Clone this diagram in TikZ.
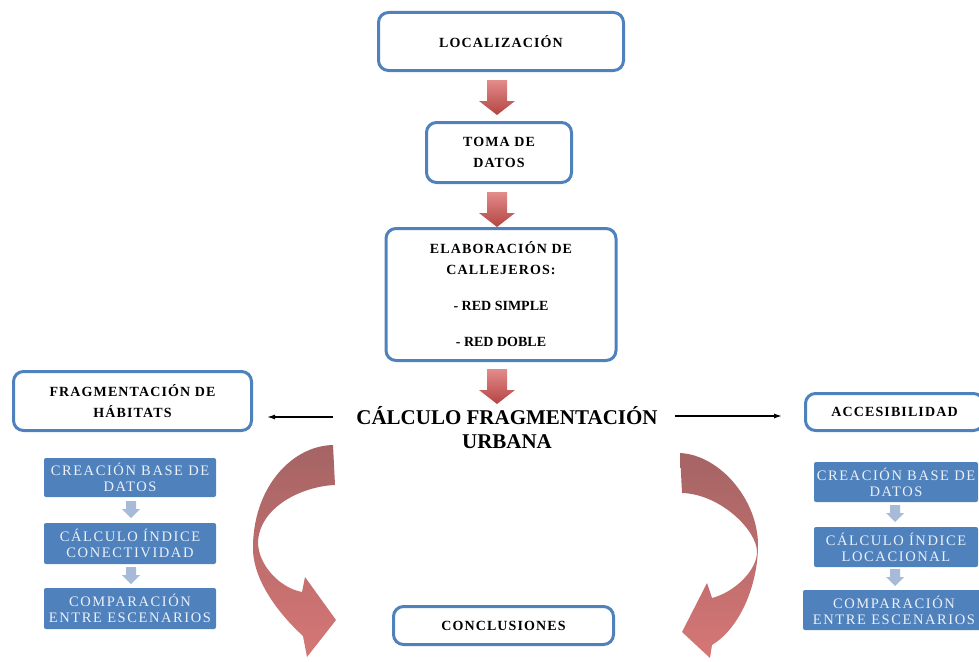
\documentclass[tikz,border=0pt]{standalone}
\usepackage{fontspec}
\setmainfont{Liberation Serif}
\newfontfamily\spacedfont[LetterSpace=8]{Liberation Serif}
\newfontfamily\bluefont[LetterSpace=11]{Liberation Serif}
\usetikzlibrary{arrows.meta}
\definecolor{boxblue}{RGB}{79,129,189}
\definecolor{lightarrow}{RGB}{167,186,216}
\definecolor{bluetext}{RGB}{236,240,247}
\definecolor{redtop}{RGB}{226,140,138}
\definecolor{redbot}{RGB}{180,68,66}
\definecolor{ctop}{RGB}{165,100,100}
\definecolor{cmid}{RGB}{190,78,76}
\definecolor{cbot}{RGB}{214,118,118}
\begin{document}
\begin{tikzpicture}[x=1pt,y=-1pt,
  wbox/.style={draw=boxblue, line width=3pt, rounded corners=10pt, fill=white,
    align=center, inner sep=0pt, font=\spacedfont\bfseries\fontsize{14}{21}\selectfont},
  bbox/.style={fill=boxblue, rounded corners=2pt, align=center, inner sep=0pt,
    text=bluetext, font=\bluefont\fontsize{14.5}{16}\selectfont},
  redarr/.pic={\shade[top color=redtop, bottom color=redbot]
    (-10,0) -- (10,0) -- (10,21) -- (18,21) -- (0,35) -- (-18,21) -- (-10,21) -- cycle;},
  bluearr/.pic={\fill[lightarrow]
    (-5,0) -- (5,0) -- (5,8) -- (9,8) -- (0,17) -- (-9,8) -- (-5,8) -- cycle;},
  thinarrow/.style={line width=1.3pt, -{Latex[length=8pt,width=5pt]}},
  curvedarrow/.style={top color=ctop, middle color=cmid, bottom color=cbot, draw=none}
]
\useasboundingbox (0,0) rectangle (979,661);

% main column
\node[wbox, minimum width=245pt, minimum height=58pt] (loc) at (501,41.5) {LOCALIZACIÓN};
\pic at (497,80) {redarr};
\node[wbox, minimum width=145pt, minimum height=60pt] (toma) at (499,152.5) {TOMA DE\\DATOS};
\pic at (497,192) {redarr};
\node[wbox, minimum width=230pt, minimum height=132pt] (elab) at (501,294.5)
  {ELABORACIÓN DE\\CALLEJEROS:\\[15pt]{\normalfont\bfseries - RED SIMPLE}\\[15pt]{\normalfont\bfseries - RED DOBLE}};
\pic at (497,369) {redarr};
\node[align=center, inner sep=0pt, font=\bfseries\fontsize{21}{24}\selectfont] (calc) at (507,428)
  {CÁLCULO FRAGMENTACIÓN\\URBANA};

% side boxes
\node[wbox, minimum width=238pt, minimum height=59pt] (frag) at (132.5,401) {FRAGMENTACIÓN DE\\HÁBITATS};
\node[wbox, minimum width=178pt, minimum height=37pt] (acc) at (894.5,412) {ACCESIBILIDAD};
\node[wbox, minimum width=220pt, minimum height=38pt] (concl) at (503.5,625.5) {CONCLUSIONES};

\coordinate (la) at (333,417);
\coordinate (ra) at (675,416);
\draw[thinarrow, shorten >=14pt] (la) -- (frag.east |- la);
\draw[thinarrow, shorten >=22pt] (ra) -- (acc.west |- ra);

% left blue column
\node[bbox, minimum width=172pt, minimum height=39pt] (l1) at (130,477.5) {CREACIÓN BASE DE\\DATOS};
\pic at (131,501) {bluearr};
\node[bbox, minimum width=172pt, minimum height=41pt] (l2) at (130,543.5) {CÁLCULO ÍNDICE\\CONECTIVIDAD};
\pic at (131,567) {bluearr};
\node[bbox, minimum width=172pt, minimum height=41pt] (l3) at (130,608.5) {COMPARACIÓN\\ENTRE ESCENARIOS};

% right blue column
\node[bbox, minimum width=164pt, minimum height=40pt] (r1) at (896,482) {CREACIÓN BASE DE\\DATOS};
\pic at (895,505) {bluearr};
\node[bbox, minimum width=164pt, minimum height=40pt] (r2) at (896,547) {CÁLCULO ÍNDICE\\LOCACIONAL};
\pic at (895,569) {bluearr};
\node[bbox, minimum width=182pt, minimum height=40pt] (r3) at (894,610) {COMPARACIÓN\\ENTRE ESCENARIOS};

% curved arrows
\shade[curvedarrow] (333,445) -- (335,485)
  .. controls (305,486) and (260,505) .. (258,542)
  .. controls (258,565) and (280,588) .. (302,592)
  -- (305,577) -- (336,620) -- (307,657) -- (303,636)
  .. controls (280,615) and (254,582) .. (253,550)
  .. controls (252,490) and (290,446) .. cycle;
\shade[curvedarrow] (680,453)
  .. controls (720,455) and (758,500) .. (758,545)
  .. controls (758,585) and (740,628) .. (712,645)
  -- (710,658) -- (682,632) -- (707,583) -- (712,598)
  .. controls (735,592) and (757,570) .. (757,552)
  .. controls (757,530) and (720,494) .. (682,493) -- cycle;
\end{tikzpicture}
\end{document}
